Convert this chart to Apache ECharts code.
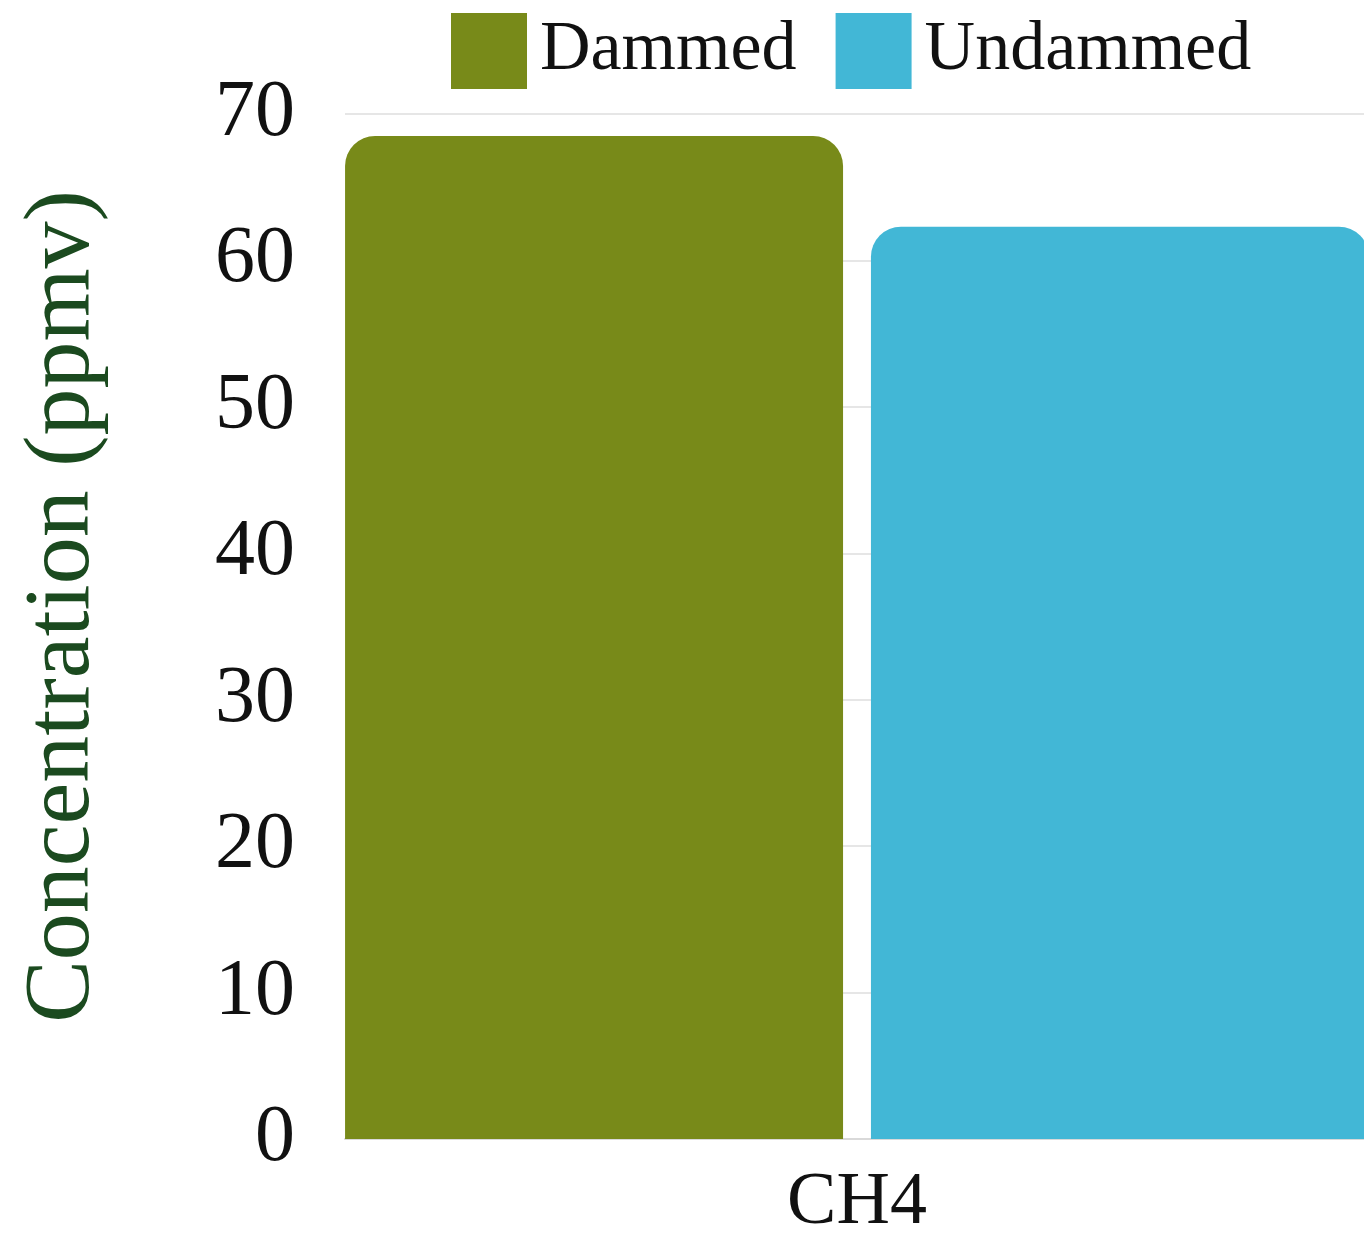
<!DOCTYPE html>
<html>
<head>
<meta charset="utf-8">
<script src="https://cdn.jsdelivr.net/npm/echarts@6/dist/echarts.min.js"></script>
<style>
  html, body { margin: 0; padding: 0; background: #ffffff; }
  #chart { width: 1364px; height: 1240px; }
</style>
</head>
<body>
<div id="chart"></div>
<script>
// Methane concentration, dammed vs undammed sites
const categories = ['CH4'];
const seriesNames = ['Dammed', 'Undammed'];
const dammed = [68.5];
const undammed = [62.3];
const yTicks = { min: 0, max: 70, interval: 10 };

const serif = '"Liberation Serif", "DejaVu Serif", serif';
const colors = ['#788a19', '#42b7d6'];

const chart = echarts.init(document.getElementById('chart'), null, { renderer: 'canvas' });

chart.setOption({
  animation: false,
  backgroundColor: '#ffffff',
  color: colors,
  legend: {
    top: 13,
    left: 451,
    padding: 0,
    itemWidth: 76,
    itemHeight: 76,
    itemGap: 39,
    icon: 'rect',
    data: seriesNames,
    textStyle: {
      fontFamily: serif,
      fontSize: 70,
      lineHeight: 76,
      color: '#111111',
      padding: [0, 0, 0, 8]
    }
  },
  grid: {
    left: 345,
    right: -5,
    top: 114,
    bottom: 101,
    containLabel: false,
    outerBoundsMode: 'none'
  },
  xAxis: {
    type: 'category',
    data: categories,
    axisLine: { show: true, lineStyle: { color: '#d9d9d9', width: 2 } },
    axisTick: { show: false },
    axisLabel: {
      fontFamily: serif,
      fontSize: 74,
      color: '#111111',
      margin: 28
    }
  },
  yAxis: {
    type: 'value',
    min: yTicks.min,
    max: yTicks.max,
    interval: yTicks.interval,
    name: 'Concentration (ppmv)',
    nameLocation: 'middle',
    nameGap: 235,
    nameTextStyle: {
      fontFamily: serif,
      fontSize: 94,
      color: '#1b4a1f',
      padding: [0, 0, 0, 40]
    },
    axisLine: { show: false },
    axisTick: { show: false },
    splitLine: { show: true, lineStyle: { color: '#e6e6e6', width: 2 } },
    axisLabel: {
      fontFamily: serif,
      fontSize: 80,
      color: '#111111',
      margin: 50
    }
  },
  series: [
    {
      name: seriesNames[0],
      type: 'bar',
      data: dammed,
      barWidth: 498,
      barGap: '5.6%',
      itemStyle: { borderRadius: [30, 30, 0, 0] }
    },
    {
      name: seriesNames[1],
      type: 'bar',
      data: undammed,
      barWidth: 498,
      itemStyle: { borderRadius: [30, 30, 0, 0] }
    }
  ]
});
</script>
</body>
</html>
